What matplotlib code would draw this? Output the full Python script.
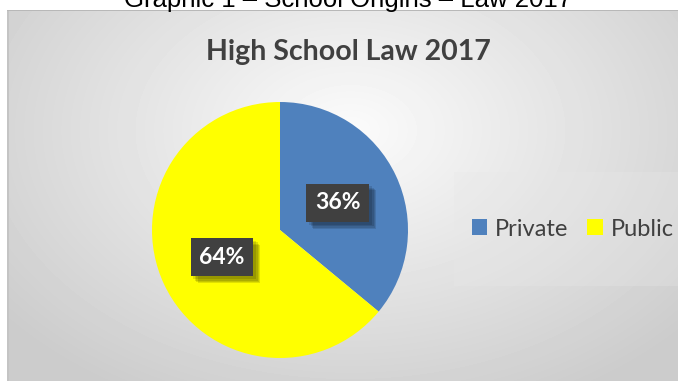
import numpy as np
import matplotlib.pyplot as plt
import matplotlib.patheffects as pe
from matplotlib.patches import Patch, Rectangle

labels = ["Private", "Public"]
shares = [36, 64]
colors = ["#4F81BD", "#FFFF00"]
caption = "Graphic 1 \u2013 School Origins \u2013 Law 2017"
title = "High School Law 2017"

W, H = 678, 381
fig = plt.figure(figsize=(W / 100, H / 100), dpi=100)
fig.patch.set_facecolor("white")

# background of the chart area: soft radial grey gradient
bg = fig.add_axes([0, 0, 1, 1])
bg.set_xlim(0, W)
bg.set_ylim(H, 0)
bg.axis("off")
yy, xx = np.mgrid[11:H, 7:W]
d = np.sqrt(((xx - 350) / 380.0) ** 2 + ((yy - 130) / 260.0) ** 2)
shade = np.clip(0.985 - 0.16 * d, 0.80, 0.985)
bg.imshow(shade, cmap="gray", vmin=0, vmax=1, extent=(7, W, H, 11),
          aspect="auto", interpolation="bilinear")
bg.add_patch(Rectangle((7, 11), 2, H - 11, color="#c4c4c4", lw=0))
bg.add_patch(Rectangle((7, 10), W - 7, 1.2, color="#b8b8b8", lw=0))
# faint legend panel
bg.add_patch(Rectangle((454, 172), W - 454, 114, color="#e8e8e8", alpha=0.3, lw=0))

# caption above the chart, cut off by the top edge as in the source
fig.text(348 / W, 1 - 7 / H, caption, ha="center", va="baseline",
         fontsize=18.5, family="Liberation Sans", color="black")

fig.text(348 / W, 1 - 52 / H, title, ha="center", va="center",
         fontsize=20.5, fontweight="bold", family="Lato", color="#404040")

cx, cy, r = 280, 230, 128
ax = fig.add_axes([(cx - r) / W, (H - cy - r) / H, 2 * r / W, 2 * r / H])
wedges, _, autotexts = ax.pie(
    shares, colors=colors, startangle=90, counterclock=False,
    autopct="%1.0f%%", pctdistance=0.5,
    textprops=dict(color="white", fontsize=16.5, fontweight="bold", family="Lato"),
    wedgeprops=dict(linewidth=0))
ax.set_xlim(-1, 1)
ax.set_ylim(-1, 1)
ax.set_aspect("equal")
# soft drop shadow under the label boxes
shadow = [pe.SimplePatchShadow(offset=(o, -o), shadow_rgbFace="black", alpha=0.12)
          for o in (5, 4, 3, 2)]
for t in autotexts:
    t.set_bbox(dict(boxstyle="square,pad=0.38", fc="#404040", ec="none"))
    t.get_bbox_patch().set_path_effects(shadow + [pe.Normal()])

handles = [Patch(facecolor=c, edgecolor="none", label=l) for c, l in zip(colors, labels)]
fig.legend(handles=handles, loc="center left", bbox_to_anchor=(472 / W, 1 - 229 / H),
           ncol=2, frameon=False, prop=dict(family="Lato", size=17),
           labelcolor="#404040", handlelength=0.64, handleheight=0.64,
           handletextpad=0.34, columnspacing=0.8, borderaxespad=0, borderpad=0)

fig.savefig("out.png", dpi=100)
